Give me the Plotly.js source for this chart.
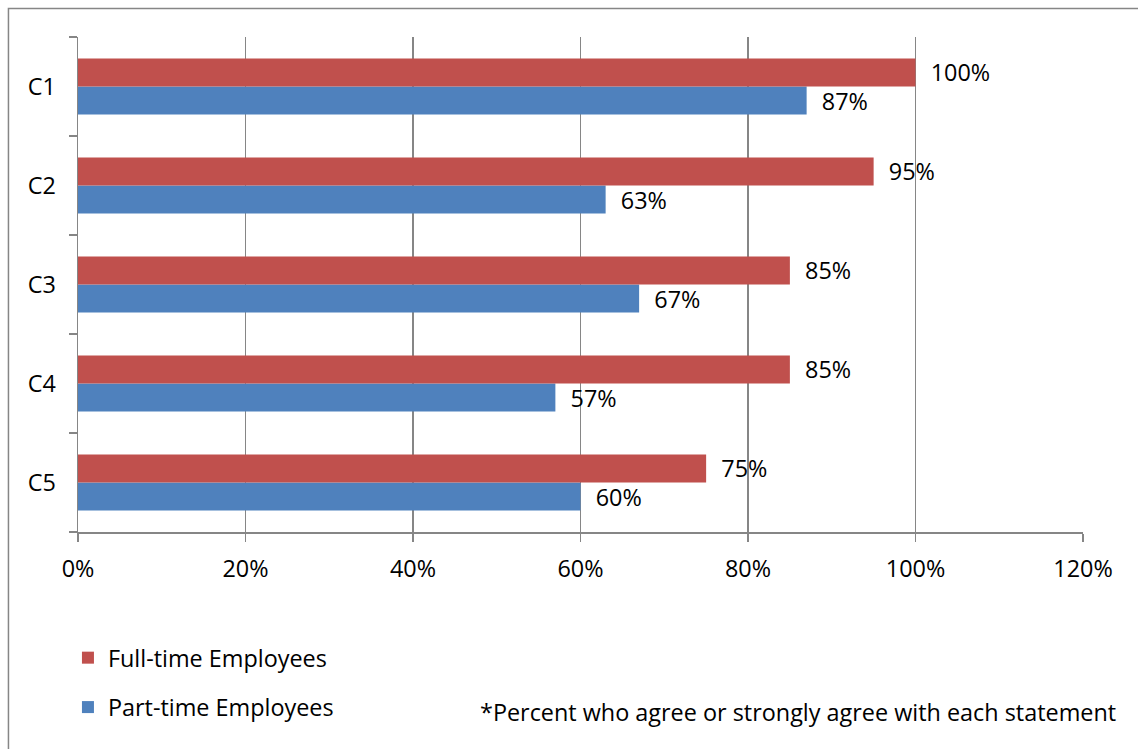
<!DOCTYPE html>
<html>
<head>
<meta charset="utf-8">
<script src="https://cdn.plot.ly/plotly-3.0.1.min.js"></script>
<style>html,body{margin:0;padding:0;background:#fff;}#chart{width:1138px;height:749px;}</style>
</head>
<body>
<div id="chart"></div>
<script>
var categories = ['C1', 'C2', 'C3', 'C4', 'C5'];
var fullTime = [100, 95, 85, 85, 75];
var partTime = [87, 63, 67, 57, 60];
var seriesNames = ['Full-time Employees', 'Part-time Employees'];
var xTicks = [0, 20, 40, 60, 80, 100, 120];
var xTickLabels = ['0%', '20%', '40%', '60%', '80%', '100%', '120%'];
var footnote = '*Percent who agree or strongly agree with each statement';

var FONT = 'Open Sans, sans-serif';
var FS = 23.4;
var GRAY = '#868686';
var pad = '\u00a0\u00a0';
function labels(arr) { return arr.map(function (v) { return pad + v + '%'; }); }

var traces = [
  {
    type: 'bar', orientation: 'h', name: seriesNames[1], legendgroup: 'b', legendrank: 2,
    y: categories, x: partTime,
    marker: {color: '#4F81BD', line: {width: 0}},
    text: labels(partTime), textposition: 'outside', constraintext: 'none',
    cliponaxis: false, hoverinfo: 'skip',
    textfont: {family: FONT, size: FS, color: '#000'}
  },
  {
    type: 'bar', orientation: 'h', name: seriesNames[0], legendgroup: 'a', legendrank: 1,
    y: categories, x: fullTime,
    marker: {color: '#C0504D', line: {width: 0}},
    text: labels(fullTime), textposition: 'outside', constraintext: 'none',
    cliponaxis: false, hoverinfo: 'skip',
    textfont: {family: FONT, size: FS, color: '#000'}
  }
];

var layout = {
  width: 1138, height: 749,
  margin: {l: 78, r: 55, t: 37, b: 217},
  paper_bgcolor: '#fff', plot_bgcolor: '#fff',
  font: {family: FONT, size: FS, color: '#000'},
  barmode: 'group', bargap: 0.434, bargroupgap: 0,
  showlegend: true,
  legend: {
    x: -0.01, xanchor: 'left', y: -0.21, yanchor: 'top',
    traceorder: 'grouped', tracegroupgap: 16,
    font: {family: FONT, size: FS, color: '#000'},
    bgcolor: 'rgba(0,0,0,0)'
  },
  xaxis: {
    range: [0, 120], tickmode: 'array', tickvals: xTicks, ticktext: xTickLabels,
    showgrid: true, gridcolor: GRAY, gridwidth: 1.5,
    showline: true, linecolor: GRAY, linewidth: 1.5,
    zeroline: false,
    ticks: 'outside', ticklen: 8, tickcolor: GRAY, tickwidth: 1.5,
    ticklabelstandoff: 7,
    tickfont: {family: FONT, size: FS, color: '#000'},
    fixedrange: true
  },
  yaxis: {
    type: 'category',
    categoryorder: 'array', categoryarray: categories.slice().reverse(),
    showgrid: false, showline: true, linecolor: GRAY, linewidth: 1.5,
    zeroline: false,
    ticks: 'outside', tickson: 'boundaries', ticklen: 8, tickcolor: GRAY, tickwidth: 1.5,
    ticklabelstandoff: 16,
    tickfont: {family: FONT, size: FS, color: '#000'},
    fixedrange: true
  },
  annotations: [{
    xref: 'paper', yref: 'paper', x: 1.035, y: -0.364,
    xanchor: 'right', yanchor: 'middle', showarrow: false,
    text: footnote, font: {family: FONT, size: FS, color: '#000'}
  }],
  shapes: [{
    type: 'rect', xref: 'paper', yref: 'paper', layer: 'below',
    x0: -0.0692, x1: 1.3, y0: -0.7, y1: 1.0576,
    line: {color: GRAY, width: 1.5}, fillcolor: 'rgba(0,0,0,0)'
  }]
};

Plotly.newPlot('chart', traces, layout, {staticPlot: true, displayModeBar: false});
</script>
</body>
</html>
